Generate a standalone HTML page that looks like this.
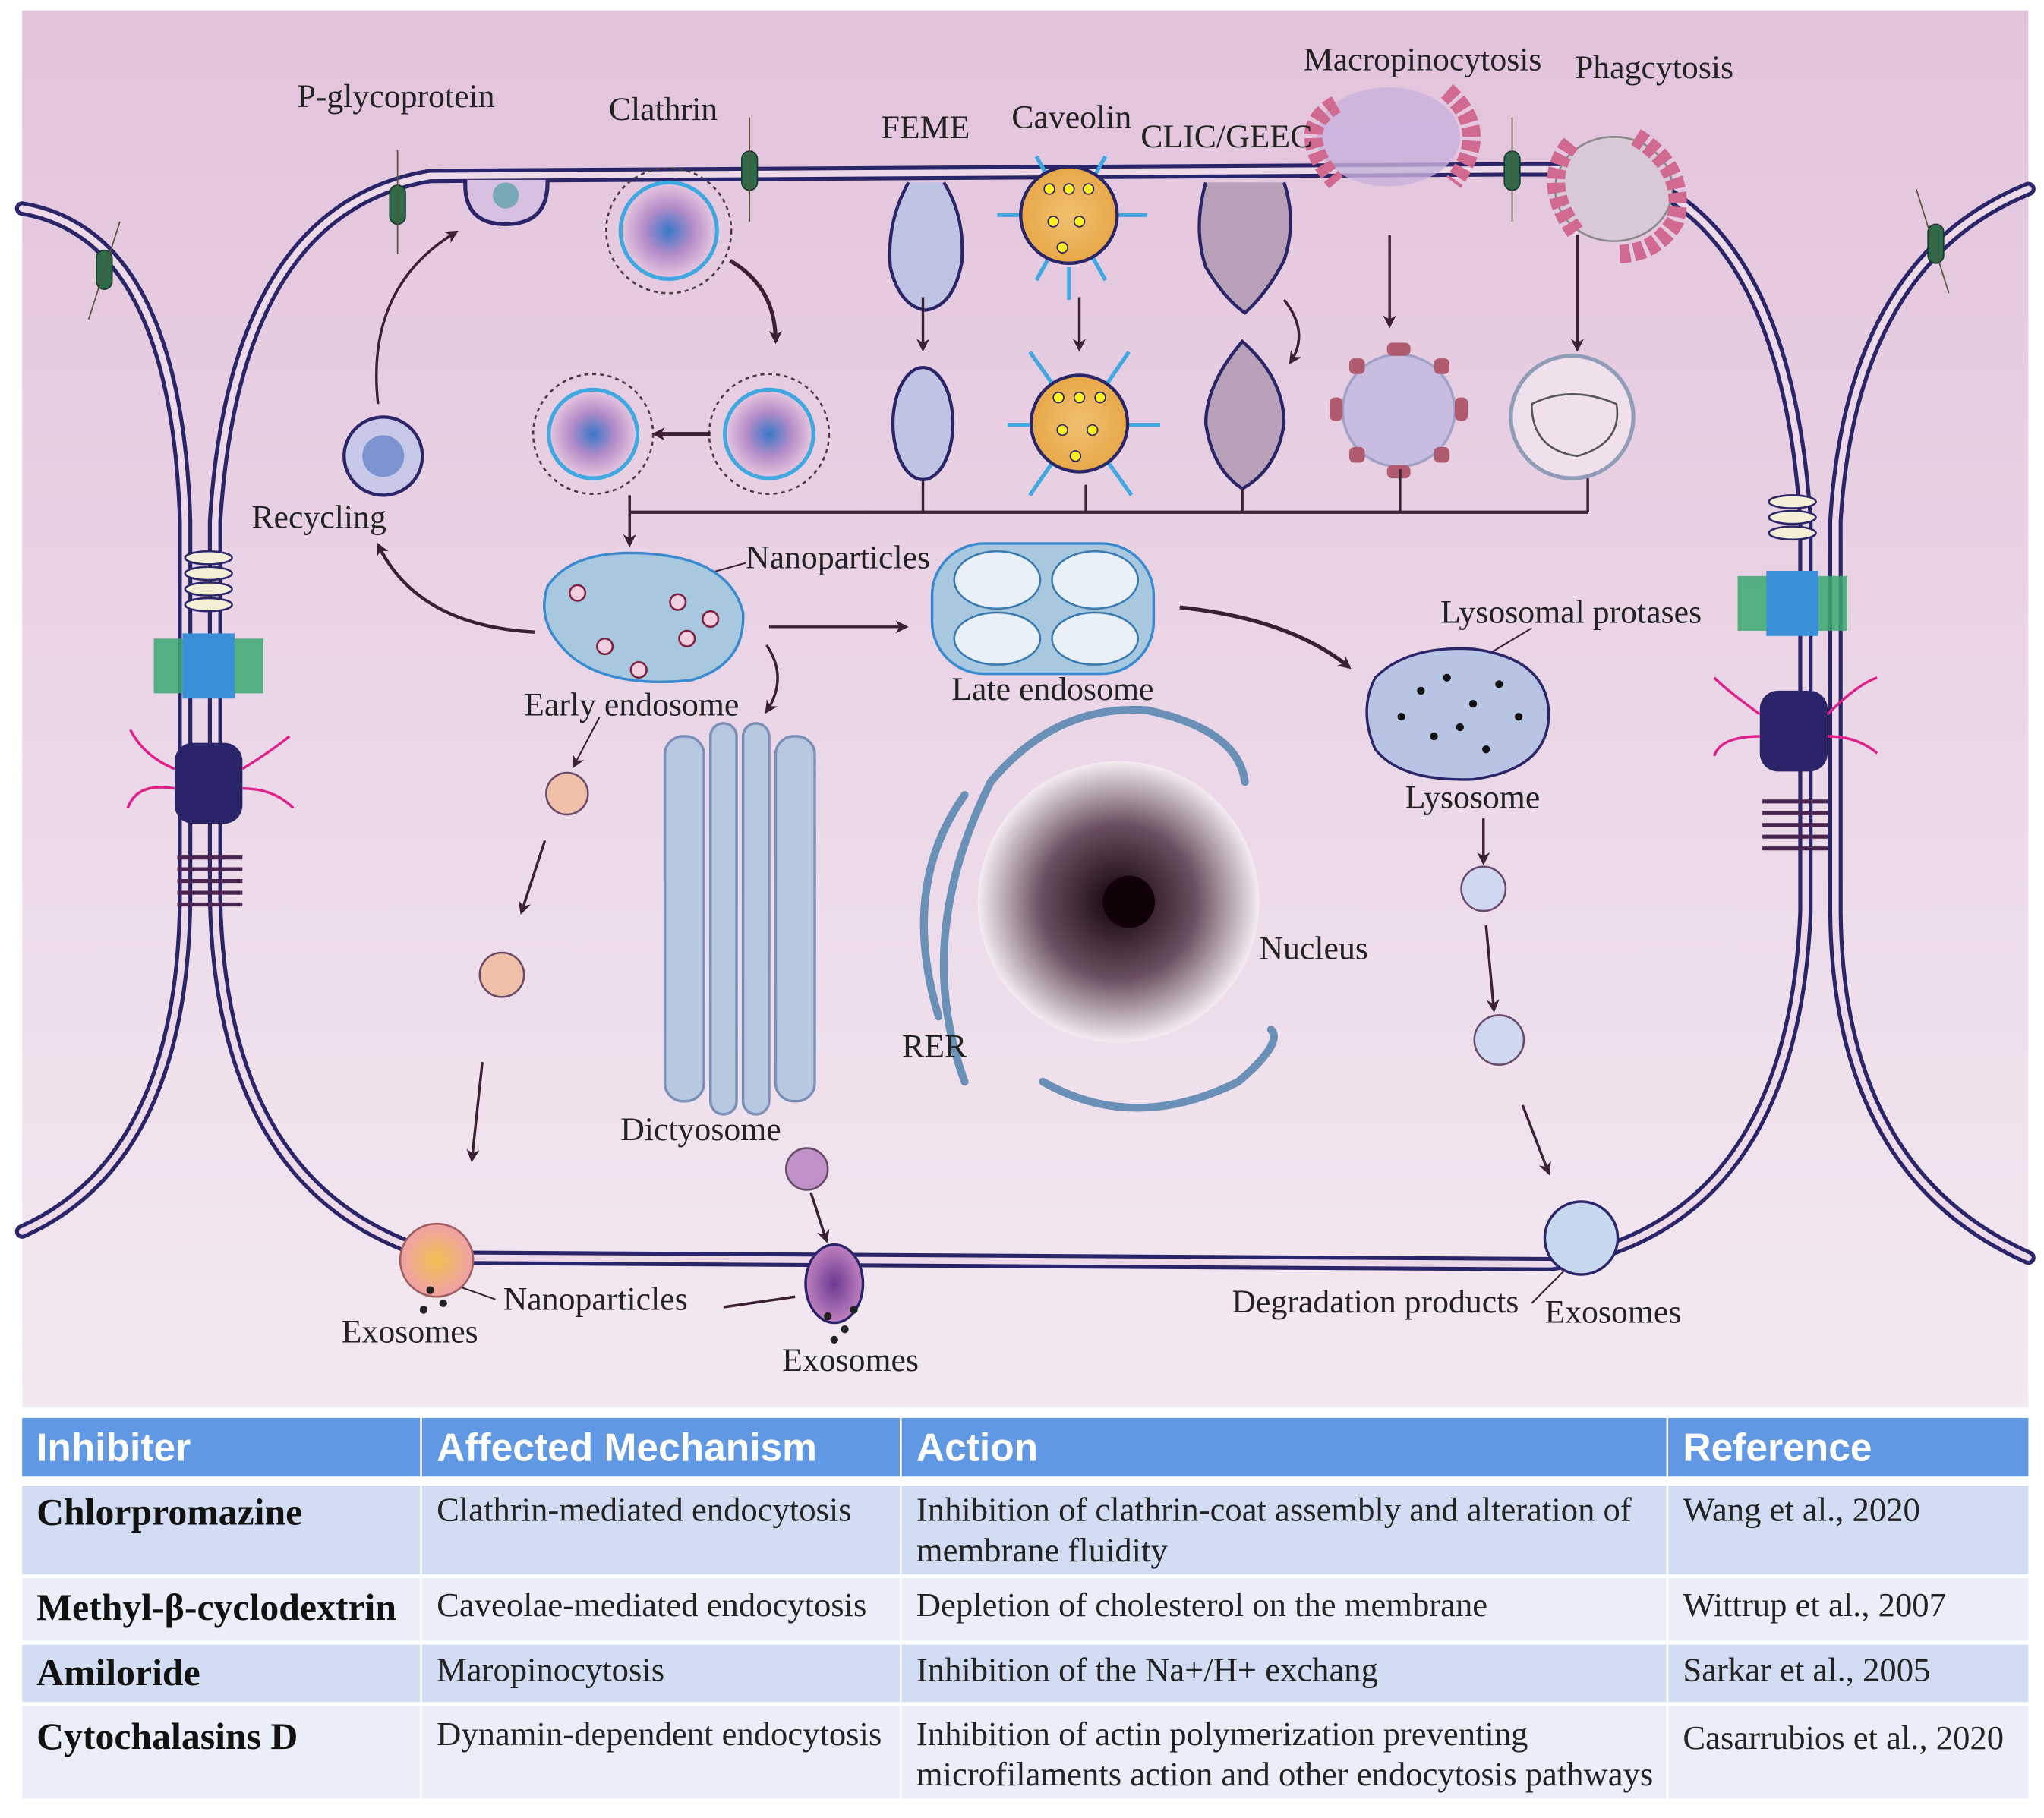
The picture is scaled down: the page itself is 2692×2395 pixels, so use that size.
<!DOCTYPE html>
<html><head><meta charset="utf-8"><style>
html,body{margin:0;padding:0;background:#fff;}
svg{display:block;}
text{font-family:"Liberation Serif",serif;fill:#222;}
.lab{font-size:25.5px;}
.hd{font-family:"Liberation Sans",sans-serif;font-weight:bold;font-size:30px;fill:#fff;}
.b1{font-size:29px;font-weight:bold;fill:#111;}
.bd{font-size:26px;fill:#222;}
</style></head><body>
<svg width="2692" height="2395" viewBox="0 0 1568 1395" xmlns="http://www.w3.org/2000/svg">
<defs>
<linearGradient id="bg" x1="0" y1="0" x2="0" y2="1"><stop offset="0" stop-color="#e2c3dc"/><stop offset="1" stop-color="#f3e9f1"/></linearGradient>
<radialGradient id="clat"><stop offset="0" stop-color="#3a78c8"/><stop offset=".5" stop-color="#b48cc8"/><stop offset="1" stop-color="#e8c8e0"/></radialGradient>
<radialGradient id="cav"><stop offset="0" stop-color="#f0c070"/><stop offset="1" stop-color="#e8a848"/></radialGradient>
<radialGradient id="nuc" cx=".5" cy=".5" r=".5"><stop offset="0" stop-color="#100008"/><stop offset=".55" stop-color="#6a5060"/><stop offset="1" stop-color="#f4ecf2"/></radialGradient>
<radialGradient id="exo1"><stop offset="0" stop-color="#f0c050"/><stop offset="1" stop-color="#f0a0a8"/></radialGradient>
<radialGradient id="exo2"><stop offset="0" stop-color="#6a3a90"/><stop offset="1" stop-color="#c080c0"/></radialGradient>
<marker id="ah" markerWidth="10" markerHeight="10" refX="8" refY="5" orient="auto" markerUnits="userSpaceOnUse"><path d="M0,0 L10,5 L0,10 L3,5z" fill="#3a2030"/></marker>
</defs>
<rect x="17" y="8" width="1539" height="1072" fill="url(#bg)"/>

<g fill="none" stroke-linecap="round">
<g stroke="#2a2468" stroke-width="11">
<path d="M330 135 Q180 160 165 400 L165 690 Q170 920 340 965 L1190 970 Q1375 940 1385 700 L1385 400 Q1370 165 1235 130 L1150 130 L330 135"/>
<path d="M17 160 Q135 180 142 400 L142 690 Q140 890 17 945"/>
<path d="M1556 145 Q1420 200 1408 400 L1408 700 Q1410 900 1556 965"/>
</g>
<g stroke="#eed9e8" stroke-width="5">
<path d="M330 135 Q180 160 165 400 L165 690 Q170 920 340 965 L1190 970 Q1375 940 1385 700 L1385 400 Q1370 165 1235 130 L1150 130 L330 135"/>
<path d="M17 160 Q135 180 142 400 L142 690 Q140 890 17 945"/>
<path d="M1556 145 Q1420 200 1408 400 L1408 700 Q1410 900 1556 965"/>
</g>
</g>

<g fill="#2e6a4a" stroke="#1a3a2a" stroke-width="1">
<rect x="299" y="142" width="12" height="30" rx="6"/><line x1="305" y1="115" x2="305" y2="195" stroke="#553"/>
<rect x="569" y="116" width="12" height="30" rx="6"/><line x1="575" y1="90" x2="575" y2="170" stroke="#553"/>
<rect x="1154" y="116" width="12" height="30" rx="6"/><line x1="1160" y1="90" x2="1160" y2="170" stroke="#553"/>
<rect x="74" y="192" width="12" height="30" rx="6"/><line x1="68" y1="245" x2="92" y2="170" stroke="#553"/>
<rect x="1479" y="172" width="12" height="30" rx="6"/><line x1="1470" y1="145" x2="1495" y2="225" stroke="#553"/>
</g>

<g>
<g fill="#f4f0d8" stroke="#2a2468" stroke-width="1.5"><ellipse cx="160" cy="428" rx="18" ry="5"/><ellipse cx="160" cy="440" rx="18" ry="5"/><ellipse cx="160" cy="452" rx="18" ry="5"/><ellipse cx="160" cy="464" rx="18" ry="5"/></g>
<rect x="118" y="490" width="84" height="42" fill="#3aa870" opacity=".85"/>
<rect x="140" y="486" width="40" height="50" fill="#3a90d8"/>
<rect x="134" y="570" width="52" height="62" rx="14" fill="#2a2468"/>
<path d="M134 590 Q110 580 100 560 M134 605 Q105 600 98 620 M186 590 Q210 575 222 565 M186 605 Q210 605 225 620" stroke="#e0208a" stroke-width="2" fill="none"/>
<g stroke="#4a2450" stroke-width="3"><line x1="136" y1="658" x2="186" y2="658"/><line x1="136" y1="667" x2="186" y2="667"/><line x1="136" y1="676" x2="186" y2="676"/><line x1="136" y1="685" x2="186" y2="685"/><line x1="136" y1="694" x2="186" y2="694"/></g>
</g>
<g>
<g fill="#f4f0d8" stroke="#2a2468" stroke-width="1.5"><ellipse cx="1375" cy="385" rx="18" ry="5"/><ellipse cx="1375" cy="397" rx="18" ry="5"/><ellipse cx="1375" cy="409" rx="18" ry="5"/></g>
<rect x="1333" y="442" width="84" height="42" fill="#3aa870" opacity=".85"/>
<rect x="1355" y="438" width="40" height="50" fill="#3a90d8"/>
<rect x="1350" y="530" width="52" height="62" rx="14" fill="#2a2468"/>
<path d="M1350 548 Q1325 530 1315 520 M1350 565 Q1320 565 1315 580 M1402 548 Q1425 525 1440 520 M1402 565 Q1425 565 1440 578" stroke="#e0208a" stroke-width="2" fill="none"/>
<g stroke="#4a2450" stroke-width="3"><line x1="1352" y1="615" x2="1402" y2="615"/><line x1="1352" y1="624" x2="1402" y2="624"/><line x1="1352" y1="633" x2="1402" y2="633"/><line x1="1352" y1="642" x2="1402" y2="642"/><line x1="1352" y1="651" x2="1402" y2="651"/></g>
</g>

<path d="M357 138 Q355 172 388 172 Q421 172 420 138" fill="#d8c0e0" stroke="#2a2468" stroke-width="3"/>
<circle cx="388" cy="150" r="10" fill="#3a9a9a" opacity=".6"/>
<g stroke="#4a3a40" stroke-width="1.5" fill="none" stroke-dasharray="3 3"><circle cx="513" cy="177" r="48"/><circle cx="455" cy="333" r="46"/><circle cx="590" cy="333" r="46"/></g>
<circle cx="513" cy="177" r="37" fill="url(#clat)" stroke="#40a8e0" stroke-width="3"/>
<circle cx="455" cy="333" r="34" fill="url(#clat)" stroke="#40a8e0" stroke-width="3"/>
<circle cx="590" cy="333" r="34" fill="url(#clat)" stroke="#40a8e0" stroke-width="3"/>
<path d="M697 140 Q680 170 683 205 Q690 235 710 238 Q732 235 738 200 Q740 165 724 140" fill="#c0c4e4" stroke="#2a2468" stroke-width="2.5"/>
<ellipse cx="708" cy="325" rx="23" ry="43" fill="#c0c4e4" stroke="#2a2468" stroke-width="2.5"/>
<g stroke="#40a8e0" stroke-width="3"><line x1="795" y1="120" x2="848" y2="215"/><line x1="848" y1="120" x2="795" y2="215"/><line x1="765" y1="165" x2="880" y2="165"/><line x1="820" y1="205" x2="820" y2="230"/>
<line x1="790" y1="270" x2="868" y2="380"/><line x1="866" y1="270" x2="790" y2="380"/><line x1="773" y1="326" x2="890" y2="326"/></g>
<circle cx="820" cy="165" r="37" fill="url(#cav)" stroke="#2a2468" stroke-width="2.5"/>
<circle cx="828" cy="325" r="37" fill="url(#cav)" stroke="#2a2468" stroke-width="2.5"/>
<g fill="#fff020" stroke="#2a2468" stroke-width="1"><circle cx="805" cy="145" r="4"/><circle cx="820" cy="145" r="4"/><circle cx="835" cy="145" r="4"/><circle cx="808" cy="170" r="4"/><circle cx="828" cy="170" r="4"/><circle cx="815" cy="190" r="4"/><circle cx="812" cy="305" r="4"/><circle cx="828" cy="305" r="4"/><circle cx="844" cy="305" r="4"/><circle cx="815" cy="330" r="4"/><circle cx="838" cy="330" r="4"/><circle cx="825" cy="350" r="4"/></g>
<path d="M925 140 Q915 175 925 205 Q940 230 955 240 Q972 225 985 200 Q995 170 985 140" fill="#b8a0b8" stroke="#2a2468" stroke-width="2.5"/>
<path d="M953 262 Q925 295 925 325 Q930 360 953 375 Q980 360 985 325 Q985 290 953 262z" fill="#b8a0b8" stroke="#2a2468" stroke-width="2.5"/>
<ellipse cx="1065" cy="105" rx="55" ry="38" fill="#c8b0dc" opacity=".8"/>
<path d="M1025 80 Q990 100 1025 140 M1110 70 Q1145 100 1115 140" stroke="#d06a90" stroke-width="14" fill="none" stroke-dasharray="8 3"/>
<circle cx="1073" cy="315" r="43" fill="#c8bce0" stroke="#a0a0c8" stroke-width="2"/>
<g fill="#b05a70"><rect x="1064" y="263" width="18" height="10" rx="4"/><rect x="1064" y="357" width="18" height="10" rx="4"/><rect x="1020" y="305" width="10" height="18" rx="4"/><rect x="1116" y="305" width="10" height="18" rx="4"/><rect x="1035" y="275" width="12" height="12" rx="4"/><rect x="1100" y="275" width="12" height="12" rx="4"/><rect x="1035" y="343" width="12" height="12" rx="4"/><rect x="1100" y="343" width="12" height="12" rx="4"/></g>
<ellipse cx="1238" cy="145" rx="45" ry="40" fill="#d8c8d8" stroke="#888" stroke-width="1.5"/>
<path d="M1205 110 Q1180 140 1210 180 M1255 105 Q1295 130 1285 170 Q1270 195 1240 195" stroke="#d06a90" stroke-width="14" fill="none" stroke-dasharray="8 3"/>
<circle cx="1206" cy="320" r="47" fill="#efe0ec" stroke="#909cb8" stroke-width="3"/>
<path d="M1175 310 Q1205 295 1240 310 Q1245 340 1210 350 Q1175 345 1175 310z" fill="none" stroke="#555" stroke-width="1.5"/>

<g stroke="#3a2030" stroke-width="2" fill="none">
<path d="M560 200 Q595 220 595 262" stroke-width="3" marker-end="url(#ah)"/>
<line x1="545" y1="333" x2="502" y2="333" stroke-width="3" marker-end="url(#ah)"/>
<line x1="708" y1="228" x2="708" y2="268" marker-end="url(#ah)"/>
<line x1="828" y1="228" x2="828" y2="268" marker-end="url(#ah)"/>
<path d="M985 230 Q1005 255 990 278" marker-end="url(#ah)"/>
<line x1="1066" y1="180" x2="1066" y2="250" marker-end="url(#ah)"/>
<line x1="1210" y1="180" x2="1210" y2="268" marker-end="url(#ah)"/>
<path d="M483 393 L1218 393" stroke-width="2.5"/>
<line x1="708" y1="368" x2="708" y2="393"/><line x1="833" y1="372" x2="833" y2="393"/><line x1="953" y1="375" x2="953" y2="393"/><line x1="1074" y1="360" x2="1074" y2="393"/><line x1="1218" y1="367" x2="1218" y2="393"/>
<line x1="483" y1="380" x2="483" y2="418" marker-end="url(#ah)"/>
<path d="M290 310 Q280 220 350 178" marker-end="url(#ah)"/>
<path d="M410 485 Q320 480 290 418" stroke-width="2.5" marker-end="url(#ah)"/>
<line x1="590" y1="481" x2="695" y2="481" marker-end="url(#ah)"/>
<path d="M905 466 Q990 475 1035 512" stroke-width="3" marker-end="url(#ah)"/>
<path d="M588 495 Q605 520 588 546" marker-end="url(#ah)"/>
<line x1="460" y1="550" x2="440" y2="588" stroke-width="1.2" marker-end="url(#ah)"/>
<line x1="418" y1="645" x2="400" y2="700" marker-end="url(#ah)"/>
<line x1="370" y1="815" x2="362" y2="890" marker-end="url(#ah)"/>
<line x1="1138" y1="628" x2="1138" y2="662" marker-end="url(#ah)"/>
<line x1="1140" y1="710" x2="1146" y2="775" marker-end="url(#ah)"/>
<line x1="1168" y1="848" x2="1188" y2="900" marker-end="url(#ah)"/>
<line x1="622" y1="915" x2="634" y2="952" marker-end="url(#ah)"/>
<line x1="525" y1="445" x2="572" y2="432" stroke-width="1.2"/>
<line x1="1145" y1="500" x2="1175" y2="482" stroke-width="1.2"/>
<line x1="340" y1="983" x2="380" y2="997" stroke-width="1.2"/>
<line x1="555" y1="1003" x2="610" y2="995" stroke-width="2"/>
<line x1="1175" y1="1000" x2="1200" y2="975" stroke-width="1.2"/>
</g>

<circle cx="294" cy="350" r="30" fill="#c8c8e8" stroke="#2a2468" stroke-width="2.5"/>
<circle cx="294" cy="350" r="16" fill="#4a70c0" opacity=".6"/>
<path d="M420 450 Q440 420 500 425 Q560 430 570 470 Q572 510 530 522 Q470 528 440 505 Q410 480 420 450z" fill="#a8c8e0" stroke="#3a8ad0" stroke-width="2"/>
<g fill="#f0d0e0" stroke="#802040" stroke-width="1.5"><circle cx="443" cy="455" r="6"/><circle cx="520" cy="462" r="6"/><circle cx="545" cy="475" r="6"/><circle cx="464" cy="496" r="6"/><circle cx="490" cy="514" r="6"/><circle cx="527" cy="490" r="6"/></g>
<rect x="715" y="417" width="170" height="100" rx="40" fill="#a8c8e0" stroke="#3a8ad0" stroke-width="2"/>
<g fill="#eaf0f8" stroke="#3a7ab0" stroke-width="1.5"><ellipse cx="765" cy="445" rx="33" ry="22"/><ellipse cx="840" cy="445" rx="33" ry="22"/><ellipse cx="765" cy="490" rx="33" ry="20"/><ellipse cx="840" cy="490" rx="33" ry="20"/></g>
<path d="M1055 520 Q1080 495 1130 498 Q1185 505 1188 545 Q1190 590 1130 598 Q1075 600 1055 575 Q1042 545 1055 520z" fill="#b8c4e4" stroke="#2a2468" stroke-width="2"/>
<g fill="#111"><circle cx="1090" cy="530" r="3"/><circle cx="1110" cy="520" r="3"/><circle cx="1130" cy="540" r="3"/><circle cx="1150" cy="525" r="3"/><circle cx="1165" cy="550" r="3"/><circle cx="1100" cy="565" r="3"/><circle cx="1140" cy="575" r="3"/><circle cx="1075" cy="550" r="3"/><circle cx="1120" cy="558" r="3"/></g>
<g stroke="#6a4a6a" stroke-width="1.5"><circle cx="435" cy="609" r="16" fill="#f0c0a8"/><circle cx="385" cy="748" r="17" fill="#f0c0a8"/><circle cx="1138" cy="682" r="17" fill="#d0d8f0"/><circle cx="1150" cy="798" r="19" fill="#d0d8f0"/><circle cx="619" cy="897" r="16" fill="#c090c8"/></g>
<g fill="#b8c8e0" stroke="#7a90b8" stroke-width="2">
<rect x="510" y="565" width="30" height="280" rx="14"/><rect x="545" y="555" width="20" height="300" rx="10"/><rect x="570" y="555" width="20" height="300" rx="10"/><rect x="595" y="565" width="30" height="280" rx="14"/>
</g>
<g fill="none" stroke="#6a90b8" stroke-width="6" stroke-linecap="round">
<path d="M740 830 Q700 720 760 600 Q810 540 880 545"/>
<path d="M720 780 Q690 680 740 610"/>
<path d="M800 830 Q870 870 950 830 Q985 800 975 790"/>
<path d="M880 545 Q950 560 955 600"/>
</g>
<circle cx="858" cy="692" r="108" fill="url(#nuc)"/>
<circle cx="866" cy="692" r="20" fill="#100008"/>
<circle cx="335" cy="967" r="28" fill="url(#exo1)" stroke="#a06060" stroke-width="1.5"/>
<ellipse cx="640" cy="985" rx="22" ry="30" fill="url(#exo2)" stroke="#2a2468" stroke-width="2"/>
<circle cx="1213" cy="950" r="28" fill="#c8d8f0" stroke="#2a2468" stroke-width="2"/>
<g fill="#222"><circle cx="330" cy="990" r="3"/><circle cx="340" cy="1000" r="3"/><circle cx="325" cy="1005" r="3"/><circle cx="635" cy="1010" r="3"/><circle cx="648" cy="1020" r="3"/><circle cx="640" cy="1028" r="3"/><circle cx="655" cy="1005" r="3"/></g>

<g class="lab">
<text x="228" y="82">P-glycoprotein</text>
<text x="467" y="92">Clathrin</text>
<text x="676" y="106">FEME</text>
<text x="776" y="98">Caveolin</text>
<text x="875" y="113">CLIC/GEEC</text>
<text x="1000" y="54">Macropinocytosis</text>
<text x="1208" y="60">Phagcytosis</text>
<text x="193" y="405">Recycling</text>
<text x="572" y="436">Nanoparticles</text>
<text x="402" y="549">Early endosome</text>
<text x="730" y="537">Late endosome</text>
<text x="1105" y="478">Lysosomal protases</text>
<text x="1078" y="620">Lysosome</text>
<text x="966" y="736">Nucleus</text>
<text x="692" y="811">RER</text>
<text x="476" y="875">Dictyosome</text>
<text x="386" y="1005">Nanoparticles</text>
<text x="262" y="1030">Exosomes</text>
<text x="600" y="1052">Exosomes</text>
<text x="945" y="1007">Degradation products</text>
<text x="1185" y="1015">Exosomes</text>
</g>

<rect x="17" y="1088" width="1539" height="45" fill="#6198e4"/>
<rect x="17" y="1140" width="1539" height="68" fill="#d2ddf4"/>
<rect x="17" y="1211" width="1539" height="48" fill="#e9eef9"/>
<rect x="17" y="1262" width="1539" height="44" fill="#d2ddf4"/>
<rect x="17" y="1309" width="1539" height="71" fill="#e9eef9"/>
<g stroke="#ffffff" stroke-width="1.5"><line x1="323" y1="1088" x2="323" y2="1380"/><line x1="691" y1="1088" x2="691" y2="1380"/><line x1="1279" y1="1088" x2="1279" y2="1380"/></g>
<text class="hd" x="28" y="1121">Inhibiter</text>
<text class="hd" x="335" y="1121">Affected  Mechanism</text>
<text class="hd" x="703" y="1121">Action</text>
<text class="hd" x="1291" y="1121">Reference</text>
<text class="b1" x="28" y="1170">Chlorpromazine</text>
<text class="b1" x="28" y="1243">Methyl-β-cyclodextrin</text>
<text class="b1" x="28" y="1293">Amiloride</text>
<text class="b1" x="28" y="1342">Cytochalasins D</text>
<g class="bd">
<text x="335" y="1167">Clathrin-mediated endocytosis</text>
<text x="703" y="1167">Inhibition of clathrin-coat assembly and alteration of</text>
<text x="703" y="1198">membrane fluidity</text>
<text x="1291" y="1167">Wang et al., 2020</text>
<text x="335" y="1240">Caveolae-mediated endocytosis</text>
<text x="703" y="1240">Depletion of cholesterol on the membrane</text>
<text x="1291" y="1240">Wittrup et al., 2007</text>
<text x="335" y="1290">Maropinocytosis</text>
<text x="703" y="1290">Inhibition of  the Na+/H+ exchang</text>
<text x="1291" y="1290">Sarkar et al., 2005</text>
<text x="335" y="1339">Dynamin-dependent endocytosis</text>
<text x="703" y="1339">Inhibition of actin polymerization preventing</text>
<text x="703" y="1370">microfilaments action and other endocytosis pathways</text>
<text x="1291" y="1342">Casarrubios et al., 2020</text>
</g>
</svg>
</body></html>
